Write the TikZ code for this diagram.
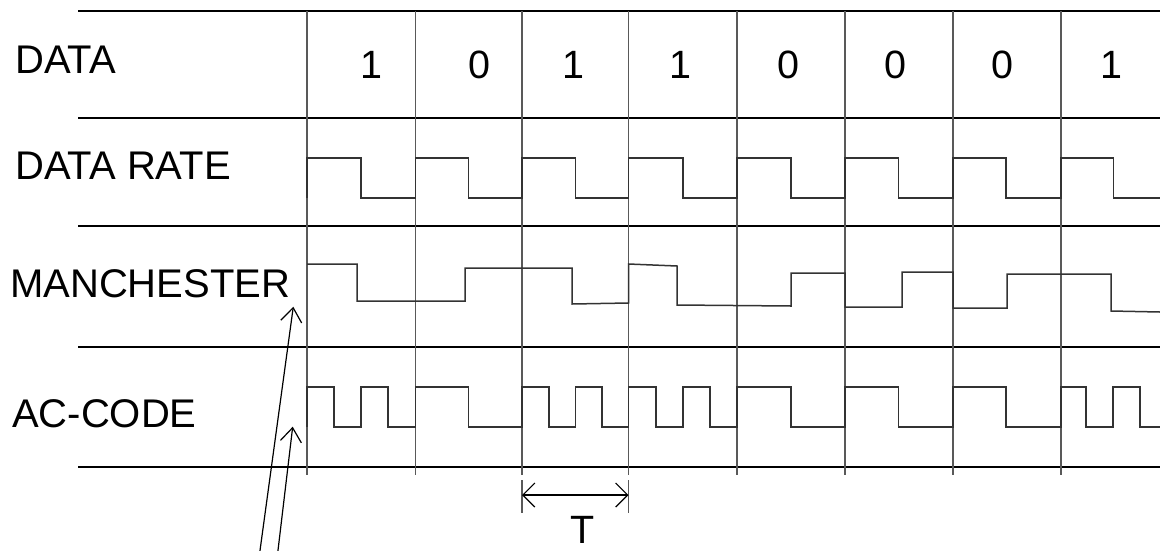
\documentclass[tikz,border=0pt]{standalone}
\usepackage{fontspec}
\setmainfont{Liberation Sans}
\usetikzlibrary{arrows.meta}
\begin{document}
\begin{tikzpicture}[x=1pt,y=-1pt,
  gridh/.style={line width=1.2pt,black},
  gridv/.style={line width=1.1pt,black!65},
  wave/.style={line width=1.5pt,black!80,line join=miter},
  lbl/.style={anchor=base west,inner sep=0pt,font=\fontsize{40}{46}\selectfont},
  bit/.style={anchor=base,inner sep=0pt,font=\fontsize{39.5}{46}\selectfont},
  ptr/.style={line width=1.2pt,-{Straight Barb[length=14pt,width=21pt]}},
  dimline/.style={line width=1.2pt,{Straight Barb[length=12pt,width=24pt]}-{Straight Barb[length=12pt,width=24pt]}},
  tick/.style={line width=1.1pt,black!65}]
\useasboundingbox (0,0) rectangle (1160,550);
% horizontal grid lines
\foreach \y in {11,118,226,347,467} \draw[gridh] (78,\y) -- (1160,\y);
% vertical grid lines
\foreach \x in {307,415.5,522,628.5,737,845,953,1061} \draw[gridv] (\x,11) -- (\x,475);
% row labels
\node[lbl] (ldata) at (15,73) {DATA};
\node[lbl] (lrate) at (15,179) {DATA RATE};
\node[lbl] (lman) at (10,297) {MANCHESTER};
\node[lbl] (lac) at (12,427) {AC-CODE};
% data bits
\node[bit] (b0) at (371.5,78) {1};
\node[bit] (b1) at (479,78) {0};
\node[bit] (b2) at (573.5,78) {1};
\node[bit] (b3) at (680.5,78) {1};
\node[bit] (b4) at (788.5,78) {0};
\node[bit] (b5) at (895.5,78) {0};
\node[bit] (b6) at (1002.5,78) {0};
\node[bit] (b7) at (1111.5,78) {1};
% data rate clock
\draw[wave] (307,198) -- (307,158) -- (361,158) -- (361,198) -- (415.5,198) -- (415.5,158) -- (468.5,158) -- (468.5,198) -- (522,198) -- (522,158) -- (575.5,158) -- (575.5,198) -- (628.5,198) -- (628.5,158) -- (683,158) -- (683,198) -- (737,198) -- (737,158) -- (791,158) -- (791,198) -- (845,198) -- (845,158) -- (898.5,158) -- (898.5,198) -- (953,198) -- (953,158) -- (1006,158) -- (1006,198) -- (1061,198) -- (1061,158) -- (1113.5,158) -- (1113.5,198) -- (1160,198);
% manchester
\draw[wave] (307,264) -- (357,264) -- (357,301) -- (465,301) -- (465,268) -- (572,268) -- (572,304) -- (628.5,303) -- (628.5,264) -- (677,266) -- (677,305) -- (791,306) -- (791,273) -- (845,273) -- (845,307) -- (902,307) -- (902,272) -- (953,272) -- (953,308) -- (1007,308) -- (1007,274) -- (1111,274) -- (1111,311) -- (1160,312);
% AC code
\draw[wave] (307,427) -- (307,387) -- (334,387) -- (334,427) -- (361,427) -- (361,387) -- (388,387) -- (388,427) -- (415.5,427) -- (415.5,387) -- (468.5,387) -- (468.5,427) -- (522,427) -- (522,387) -- (549,387) -- (549,427) -- (575.5,427) -- (575.5,387) -- (602,387) -- (602,427) -- (628.5,427) -- (628.5,387) -- (656,387) -- (656,427) -- (683,427) -- (683,387) -- (710,387) -- (710,427) -- (737,427) -- (737,387) -- (791,387) -- (791,427) -- (845,427) -- (845,387) -- (898.5,387) -- (898.5,427) -- (953,427) -- (953,387) -- (1006,387) -- (1006,427) -- (1061,427) -- (1061,387) -- (1086,387) -- (1086,427) -- (1113,427) -- (1113,387) -- (1140,387) -- (1140,427) -- (1160,427);
% pointer arrows
\coordinate (p1) at (259.8,552);
\coordinate (t1) at (293.3,306.7);
\coordinate (p2) at (277.8,552);
\coordinate (t2) at (292.7,426.7);
\draw[ptr] (p1) -- (t1);
\draw[ptr] (p2) -- (t2);
% period T
\coordinate (ta) at (522,480);
\coordinate (tb) at (522,513);
\coordinate (tc) at (628.5,480);
\coordinate (td) at (628.5,513);
\draw[tick] (ta) -- (tb);
\draw[tick] (tc) -- (td);
\coordinate (da) at (522,495);
\coordinate (db) at (628.5,495);
\draw[dimline] (da) -- (db);
\node[bit] (tlab) at (583,543) {T};
\end{tikzpicture}
\end{document}
